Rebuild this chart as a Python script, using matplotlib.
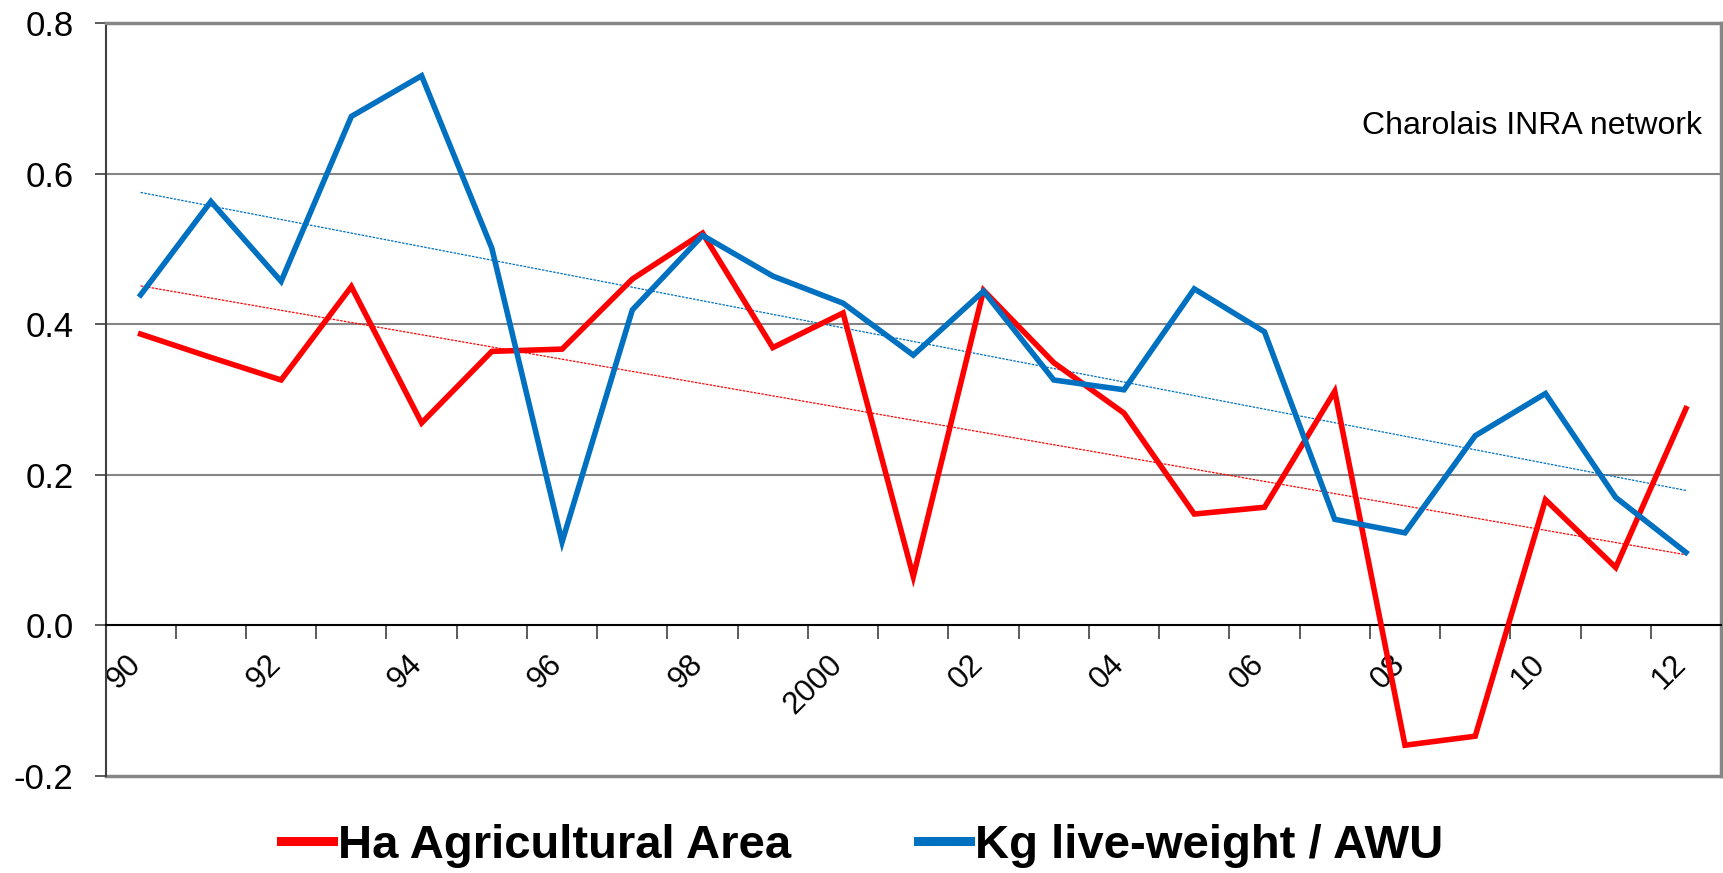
"""
Charolais INRA network: yearly change indicators, 1990-2012,
with linear trend lines for both series.
"""
import numpy as np
import matplotlib.pyplot as plt
import matplotlib.transforms as mtransforms
from matplotlib.lines import Line2D

plt.rcParams["font.family"] = ["Liberation Sans", "DejaVu Sans"]

# ----------------------------------------------------------------------------
# Data
# ----------------------------------------------------------------------------
years = list(range(1990, 2013))
tick_labels = ["90", "92", "94", "96", "98", "2000", "02", "04", "06", "08", "10", "12"]

ha_area = [0.387, 0.356, 0.326, 0.450, 0.269, 0.364, 0.367, 0.460, 0.521, 0.369,
           0.415, 0.065, 0.445, 0.349, 0.282, 0.148, 0.157, 0.311, -0.159, -0.147,
           0.167, 0.077, 0.288]
kg_awu = [0.439, 0.563, 0.457, 0.676, 0.730, 0.501, 0.111, 0.419, 0.518, 0.464,
          0.428, 0.359, 0.444, 0.326, 0.313, 0.447, 0.390, 0.141, 0.123, 0.252,
          0.308, 0.170, 0.097]
y_ticks = [-0.2, 0.0, 0.2, 0.4, 0.6, 0.8]

RED = "#FF0000"
BLUE = "#0070C0"
GRID = "#868686"

# ----------------------------------------------------------------------------
# Figure
# ----------------------------------------------------------------------------
fig = plt.figure(figsize=(17.24, 8.73), dpi=100)
ax = fig.add_axes([0.0612, 0.111, 0.9371, 0.8626])

x = np.arange(len(years))
ax.plot(x, ha_area, color=RED, lw=4.0, solid_joinstyle="miter", zorder=4)
ax.plot(x, kg_awu, color=BLUE, lw=4.0, solid_joinstyle="miter", zorder=4)

# linear trends
for series, col in [(ha_area, RED), (kg_awu, BLUE)]:
    k, b = np.polyfit(x, series, 1)
    ax.plot(x, k * x + b, color=col, lw=0.9, ls=(0, (2, 1)), zorder=3)

ax.set_xlim(-0.5, len(years) - 0.5)
ax.set_ylim(-0.2, 0.8)

# y axis
ax.set_yticks(y_ticks)
ax.set_yticklabels([f"{v:.1f}" for v in y_ticks])
ax.tick_params(axis="y", labelsize=25, length=8, width=1.2, color="#404040", pad=15)
for v in [0.2, 0.4, 0.6]:
    ax.axhline(v, color=GRID, lw=1.5, zorder=1)
ax.axhline(-0.2, color=GRID, lw=2.5, zorder=1, clip_on=False)

# x axis at zero: ticks on category boundaries, labels every other year
ax.spines["bottom"].set_position(("data", 0))
ax.spines["bottom"].set_color("#000000")
ax.spines["bottom"].set_linewidth(1.5)
ax.set_xticks(np.arange(-0.5, len(years), 1.0))
ax.set_xticklabels([])
ax.tick_params(axis="x", which="major", length=10, width=1.2, color="#404040")
ax.set_xticks(x[::2], minor=True)
ax.set_xticklabels(tick_labels, minor=True, rotation=45, ha="right", va="top",
                   fontsize=22.5)
ax.tick_params(axis="x", which="minor", length=0, pad=17)
offset = mtransforms.ScaledTranslation(6 / 100, 0, fig.dpi_scale_trans)
for lab in ax.get_xticklabels(minor=True):
    lab.set_transform(lab.get_transform() + offset)

ax.spines["left"].set_color("#404040")
ax.spines["left"].set_linewidth(1.5)
ax.spines["top"].set_color(GRID)
ax.spines["top"].set_linewidth(2.5)
ax.spines["right"].set_color(GRID)
ax.spines["right"].set_linewidth(2.5)

ax.text(0.9885, 0.852, "Charolais INRA network", transform=ax.transAxes,
        ha="right", va="baseline", fontsize=23)

handles = [Line2D([], [], color=RED, lw=6.5), Line2D([], [], color=BLUE, lw=6.5)]
fig.legend(handles, ["Ha Agricultural Area", "Kg live-weight / AWU"],
           loc="center", bbox_to_anchor=(0.5, 0.031), ncol=2, frameon=False,
           prop={"size": 34, "weight": "bold"}, handlelength=1.1,
           handletextpad=0.1, columnspacing=2.7)

fig.savefig("out.png", dpi=100)
